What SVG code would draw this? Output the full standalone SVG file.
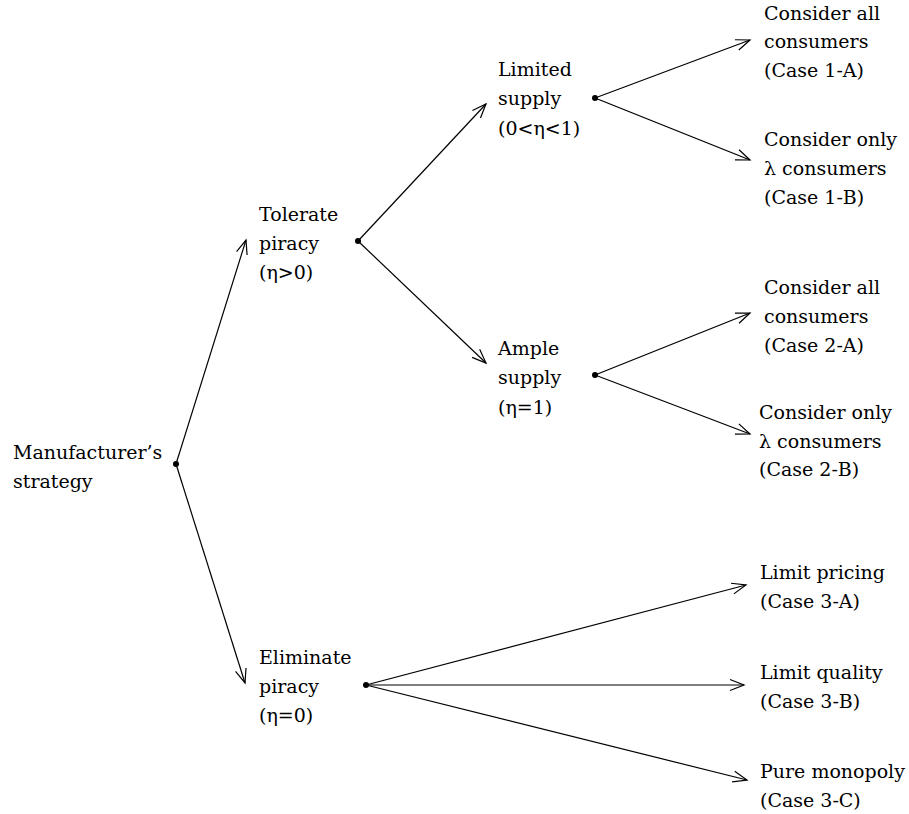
<svg xmlns="http://www.w3.org/2000/svg" width="909" height="814" viewBox="0 0 909 814">
<defs>
<style>
text{font-family:'DejaVu Serif',serif;font-size:19px;fill:#000}
.c{stroke:#000;stroke-width:1.2;fill:none;marker-end:url(#ah)}
.d{fill:#000}
</style>
<marker id="ah" markerUnits="userSpaceOnUse" markerWidth="20" markerHeight="20" viewBox="-16 -8 20 16" refX="0" refY="0" orient="auto">
<path d="M -14 -5.5 L 0 0 L -14 5.5" fill="none" stroke="#000" stroke-width="1.2"/>
</marker>
</defs>
<rect width="909" height="814" fill="#fff"/>
<g id="connectors">
<line class="c" x1="176" y1="464" x2="246" y2="240"/>
<line class="c" x1="176" y1="464" x2="245" y2="683"/>
<line class="c" x1="358" y1="241" x2="486" y2="104"/>
<line class="c" x1="358" y1="241" x2="486" y2="363"/>
<line class="c" x1="595" y1="98" x2="750" y2="40"/>
<line class="c" x1="595" y1="98" x2="750" y2="160"/>
<line class="c" x1="595" y1="375" x2="750" y2="313"/>
<line class="c" x1="595" y1="375" x2="750" y2="434"/>
<line class="c" x1="366" y1="685" x2="746" y2="585"/>
<line class="c" x1="366" y1="685" x2="744" y2="685"/>
<line class="c" x1="366" y1="685" x2="747" y2="780"/>
</g>
<g id="root"><circle class="d" cx="176" cy="464" r="3"/><text x="13" y="459">Manufacturer’s</text><text x="13" y="488">strategy</text></g>
<g id="tolerate"><circle class="d" cx="358" cy="241" r="3"/><text x="259" y="221">Tolerate</text><text x="259" y="250">piracy</text><text x="259" y="279">(η&gt;0)</text></g>
<g id="eliminate"><circle class="d" cx="366" cy="685" r="3"/><text x="259" y="664">Eliminate</text><text x="259" y="693">piracy</text><text x="259" y="722">(η=0)</text></g>
<g id="limited"><circle class="d" cx="595" cy="98" r="3"/><text x="498" y="76">Limited</text><text x="498" y="105">supply</text><text x="498" y="135">(0&lt;η&lt;1)</text></g>
<g id="ample"><circle class="d" cx="595" cy="375" r="3"/><text x="498" y="355">Ample</text><text x="498" y="384">supply</text><text x="498" y="414">(η=1)</text></g>
<g id="case1a"><text x="764" y="20">Consider all</text><text x="764" y="48">consumers</text><text x="764" y="77">(Case 1-A)</text></g>
<g id="case1b"><text x="764" y="146">Consider only</text><text x="764" y="175">λ consumers</text><text x="764" y="204">(Case 1-B)</text></g>
<g id="case2a"><text x="764" y="294">Consider all</text><text x="764" y="323">consumers</text><text x="764" y="352">(Case 2-A)</text></g>
<g id="case2b"><text x="759" y="419">Consider only</text><text x="759" y="448">λ consumers</text><text x="759" y="476">(Case 2-B)</text></g>
<g id="case3a"><text x="760" y="579">Limit pricing</text><text x="760" y="608">(Case 3-A)</text></g>
<g id="case3b"><text x="760" y="679">Limit quality</text><text x="760" y="708">(Case 3-B)</text></g>
<g id="case3c"><text x="760" y="778">Pure monopoly</text><text x="760" y="807">(Case 3-C)</text></g>
</svg>
